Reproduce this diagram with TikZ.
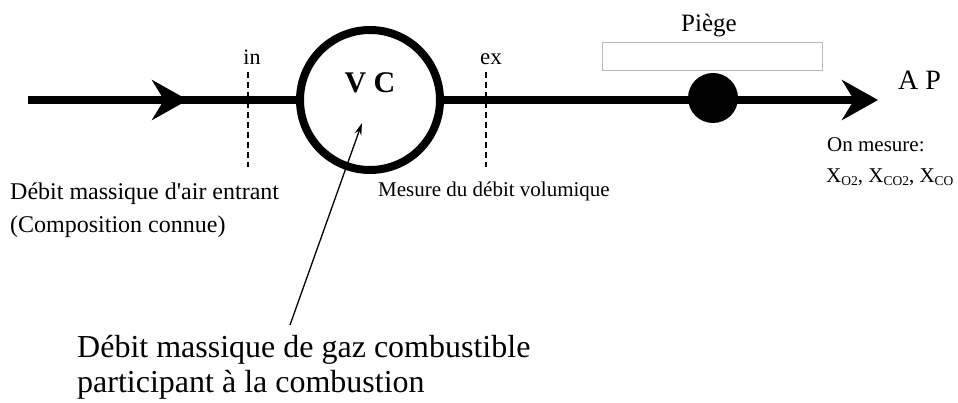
\documentclass[tikz,border=0pt]{standalone}
\usepackage{fontspec}
\setmainfont{Liberation Serif}
\usetikzlibrary{arrows.meta}
\newcommand{\smallsub}[1]{\raisebox{-2.5pt}{\fontsize{13.5pt}{13.5pt}\selectfont #1}}
\begin{document}
\begin{tikzpicture}[x=1pt,y=-1pt,
  flow/.style={line width=7.5pt},
  bigtip/.style={-{Stealth[length=36pt,width=40pt,inset=12pt]}},
  cut/.style={line width=1.2pt,dash pattern=on 6pt off 4pt},
  lbl/.style={inner sep=0pt,anchor=base west},
  clbl/.style={inner sep=0pt,anchor=base},
  fs/.style={font=\fontsize{#1}{#1}\selectfont}]
\useasboundingbox (0,0) rectangle (958,403);
% main flow
\coordinate (start) at (28,100);
\coordinate (midtip) at (188,100);
\coordinate (endtip) at (878,100);
\node[circle, draw, fill=white, line width=8pt, minimum size=140pt, inner sep=0pt] (vc) at (370,100) {};
\draw[flow] (start) -- (vc.west);
\draw[flow,bigtip] (start) -- (midtip);
\draw[flow,bigtip] (vc.east) -- (endtip);
\node[clbl,font=\bfseries\fontsize{30pt}{30pt}\selectfont] (vclbl) at (370,93) {V C};
% trap
\node[draw=gray!55, line width=1pt, minimum width=220pt, minimum height=28pt, inner sep=0pt] (trap) at (712,57) {};
\node[clbl,fs=25pt] (traplbl) at (709,32) {Piège};
\node[circle, fill=black, minimum size=50pt, inner sep=0pt] (dot) at (713,98) {};
\node[lbl,fs=28pt] (ap) at (898,90) {A P};
% sections
\coordinate (intop) at (248,72);
\coordinate (inbot) at (248,167);
\coordinate (extop) at (486,72);
\coordinate (exbot) at (486,167);
\draw[cut] (intop) -- (inbot);
\draw[cut] (extop) -- (exbot);
\node[clbl,fs=22pt] (inlbl) at (252,65) {in};
\node[clbl,fs=23pt] (exlbl) at (491,65) {ex};
% labels
\node[lbl,fs=24pt] (air1) at (10,200) {Débit massique d\textquotesingle air entrant};
\node[lbl,fs=24pt] (air2) at (10,233) {(Composition connue)};
\node[lbl,fs=21pt] (mes) at (378,197) {Mesure du débit volumique};
\node[lbl,fs=21pt] (on) at (827,152) {On mesure:};
\node[lbl,fs=21pt] (xs) at (826,183) {X\smallsub{O2}, X\smallsub{CO2}, X\smallsub{CO}};
\node[lbl,fs=32pt] (fuel1) at (77,357) {Débit massique de gaz combustible};
\node[lbl,fs=32pt] (fuel2) at (77,392) {participant à la combustion};
% pointer
\coordinate (ptail) at (290,325);
\coordinate (ptip) at (362,123);
\draw[line width=1.3pt, -{Stealth[length=12pt,width=7pt]}] (ptail) -- (ptip);
\end{tikzpicture}
\end{document}
